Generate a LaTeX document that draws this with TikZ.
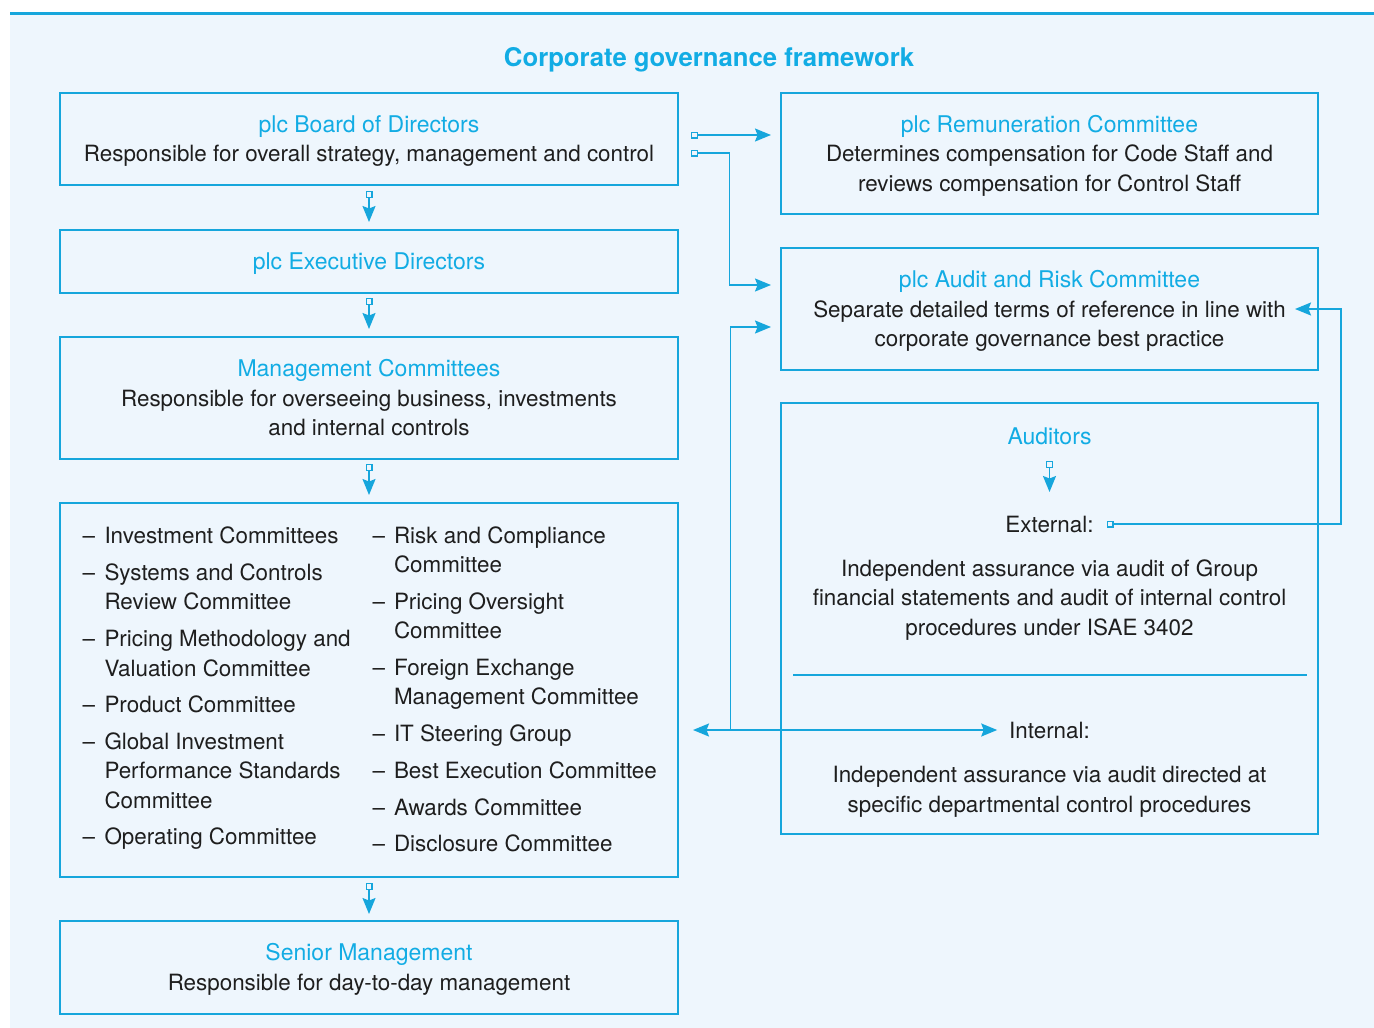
\documentclass[tikz,border=0pt]{standalone}
\usepackage{fontspec}
\setmainfont{TeX Gyre Heros}
\usetikzlibrary{arrows.meta}

\definecolor{ln}{RGB}{22,166,220}
\definecolor{hd}{RGB}{18,172,228}
\definecolor{bg}{RGB}{238,246,253}
\definecolor{tx}{RGB}{30,30,30}

% strut: 22pt above, 6pt below the baseline
\newcommand\sx{\rule[-6pt]{0pt}{28pt}}
\newcommand\boxhead[1]{\textcolor{hd}{\fontsize{23}{29.5}\selectfont\sx#1}}
\newcommand\bodyfont{\fontsize{22.4}{29.5}\selectfont}

\tikzset{
  tipend/.tip={Stealth[length=16pt,width=13pt,inset=2.5pt]},
  tipsq/.tip={Square[open,length=7pt,width=7pt,line width=1.3pt]},
  box/.style={draw=ln, line width=1.5pt, inner sep=0pt, outer sep=0pt,
    align=center, font=\bodyfont, text=tx},
  lbl/.style={inner sep=0pt, outer sep=0pt, font=\bodyfont, text=tx, align=center},
  link/.style={draw=ln, line width=1.7pt, -tipend},
  sqlink/.style={draw=ln, line width=1.7pt, tipsq-tipend},
  twoway/.style={draw=ln, line width=1.7pt, tipend-tipend},
}

\begin{document}
\begin{tikzpicture}[x=1pt,y=-1pt]
\useasboundingbox (0,0) rectangle (1374,1028);
% panel
\fill[white] (0,0) rectangle (1374,1028);
\fill[bg] (10,13) rectangle (1374,1028);
\draw[ln, line width=3pt] (10,13.5) -- (1374,13.5);

% title
\node[anchor=base, inner sep=0pt, text=hd, font=\fontsize{25.7}{30}\selectfont\bfseries]
  (title) at (709,66) {Corporate governance framework};

% left column
\node[box, minimum width=618pt, minimum height=92pt] (board) at (369,139)
  {\boxhead{plc Board of Directors}\\\sx Responsible for overall strategy, management and control};
\node[box, minimum width=618pt, minimum height=63pt] (exec) at (369,261.5)
  {\boxhead{plc Executive Directors}};
\node[box, minimum width=618pt, minimum height=122pt] (mgmt) at (369,398)
  {\boxhead{Management Committees}\\\sx Responsible for overseeing business, investments\\\sx and internal controls};
\node[box, minimum width=618pt, minimum height=374pt] (list) at (369,690) {};
\node[box, minimum width=618pt, minimum height=93pt] (senior) at (369,967.5)
  {\boxhead{Senior Management}\\\sx Responsible for day-to-day management};

% committee lists
\foreach \yy/\dd/\t [count=\i] in {
  543.3/1/Investment Committees,
  580/1/Systems and Controls,
  609.3/0/Review Committee,
  646.7/1/Pricing Methodology and,
  676/0/Valuation Committee,
  712.7/1/Product Committee,
  749.3/1/Global Investment,
  778.6/0/Performance Standards,
  808/0/Committee,
  844.7/1/Operating Committee}{
  \node[lbl, anchor=base west] (la\i) at (104.5,\yy) {\t};
  \ifnum\dd=1 \node[lbl, anchor=base west] (da\i) at (82.7,\yy) {--};\fi
}
\foreach \yy/\dd/\t [count=\i] in {
  543.3/1/Risk and Compliance,
  572.3/0/Committee,
  609/1/Pricing Oversight,
  638.3/0/Committee,
  675/1/Foreign Exchange,
  704.3/0/Management Committee,
  741/1/IT Steering Group,
  778.3/1/Best Execution Committee,
  815/1/Awards Committee,
  851.7/1/Disclosure Committee}{
  \node[lbl, anchor=base west] (lb\i) at (394,\yy) {\t};
  \ifnum\dd=1 \node[lbl, anchor=base west] (db\i) at (372.7,\yy) {--};\fi
}

% right column
\node[box, minimum width=537pt, minimum height=121pt] (remun) at (1049.5,153.5)
  {\boxhead{plc Remuneration Committee}\\\sx Determines compensation for Code Staff and\\\sx reviews compensation for Control Staff};
\node[box, minimum width=537pt, minimum height=122pt] (audit) at (1049.5,309)
  {\boxhead{plc Audit and Risk Committee}\\\sx Separate detailed terms of reference in line with\\\sx corporate governance best practice};
\node[box, minimum width=537pt, minimum height=431pt] (auditors) at (1049.5,618.5) {};

\node[lbl, anchor=base, text=hd, font=\fontsize{23}{29.5}\selectfont] (audT) at (1049.5,444) {\sx Auditors};
\node[lbl, anchor=base] (ext) at (1049.5,532) {\sx External:};
\node[lbl] (extbody) at (1049.5,597.5)
  {\sx Independent assurance via audit of Group\\\sx financial statements and audit of internal control\\\sx procedures under ISAE 3402};
\draw[ln, line width=1.2pt] (793,675) -- (1307,675);
\node[lbl, anchor=base] (int) at (1049.5,738) {\sx Internal:};
\node[lbl] (intbody) at (1049.5,789.5)
  {\sx Independent assurance via audit directed at\\\sx specific departmental control procedures};

% connectors
\draw[sqlink, shorten <=6pt, shorten >=8pt] (board.south) -- (exec.north);
\draw[sqlink, shorten <=5pt, shorten >=8pt] (exec.south) -- (mgmt.north);
\draw[sqlink, shorten <=5pt, shorten >=8pt] (mgmt.south) -- (list.north);
\draw[sqlink, shorten <=6pt, shorten >=7pt] (list.south) -- (senior.north);

\draw[sqlink, shorten <=13pt, shorten >=10pt]
  ([yshift=4pt]board.east) -- ([yshift=4pt]board.east -| remun.west);
\coordinate (bend1) at (729.5,285);
\draw[sqlink, shorten <=13pt, shorten >=10pt]
  ([yshift=-14pt]board.east) -| (bend1) -- (bend1 -| audit.west);

\coordinate (split) at (730.5,730);
\draw[twoway, shorten <=15pt, shorten >=12pt] (list.east |- int.west) -- (int.west);
\draw[link, shorten >=10pt] (split) |- ([yshift=-18pt]audit.west);

\coordinate (ret) at (1341,309);
\draw[sqlink, shorten <=13pt] (ext.east) -| (ret) -- ([xshift=-23pt]audit.east);
\draw[sqlink, shorten <=11pt, shorten >=18pt] (audT.south) -- (ext.north);
\end{tikzpicture}
\end{document}
